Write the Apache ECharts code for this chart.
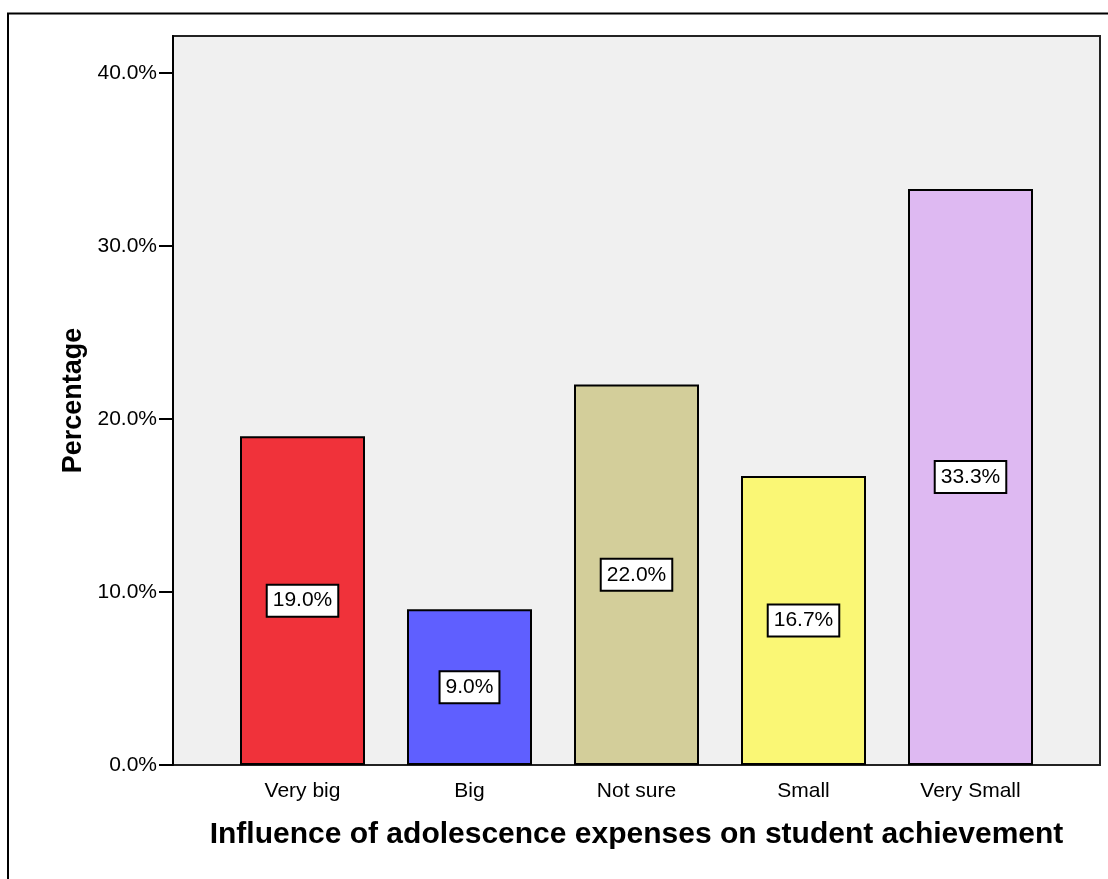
<!DOCTYPE html>
<html>
<head>
<meta charset="utf-8">
<script src="https://cdn.jsdelivr.net/npm/echarts@6/dist/echarts.min.js"></script>
<style>
    html, body { margin: 0; padding: 0; background: #fff; }
    #chart { width: 1108px; height: 879px; }
</style>
</head>
<body>
<div id="chart"></div>
<script>
// values
var categories = ['Very big', 'Big', 'Not sure', 'Small', 'Very Small'];
var percents = [19.0, 9.0, 22.0, 16.7, 33.3];
var barColors = ['#f0323a', '#5f5fff', '#d3ce9a', '#faf775', '#deb9f2'];
var yTicks = [0, 10, 20, 30, 40];
var yMax = 42.14;

var chartDom = document.getElementById('chart');
var myChart = echarts.init(chartDom);

var barData = [];
percents.forEach(function (v, i) {
    barData.push({
        value: v,
        itemStyle: { color: barColors[i] }
    });
});

var font = 'Liberation Sans, Arial, sans-serif';

var option = {
    animation: false,
    textStyle: { fontFamily: font },
    graphic: [
        {
            type: 'polyline',
            shape: { points: [[8, 879], [8, 13.5], [1108, 13.5]] },
            style: { stroke: '#000', lineWidth: 2, fill: null }
        }
    ],
    grid: [
        {
            left: 173, right: 8, top: 36, bottom: 114,
            show: true,
            backgroundColor: '#f0f0f0',
            borderColor: '#222',
            borderWidth: 2
        },
        {
            left: 219, right: 54, top: 36, bottom: 114
        }
    ],
    xAxis: [
        { gridIndex: 0, type: 'value', show: false },
        {
            gridIndex: 1,
            type: 'category',
            data: categories,
            axisLine: { show: false },
            axisTick: {
                alignWithLabel: true,
                length: 12,
                lineStyle: { color: '#000', width: 2 }
            },
            axisLabel: { color: '#000', fontSize: 21, margin: 16, fontFamily: font },
            name: 'Influence of adolescence expenses on student achievement',
            nameLocation: 'middle',
            nameGap: 55,
            nameTextStyle: { color: '#000', fontSize: 30, fontWeight: 'bold', fontFamily: font }
        }
    ],
    yAxis: [
        {
            gridIndex: 0,
            type: 'value',
            min: 0,
            max: yMax,
            interval: 10,
            splitLine: { show: false },
            axisLine: { show: true, lineStyle: { color: '#000', width: 2 } },
            axisTick: {
                show: true,
                length: 14,
                customValues: yTicks,
                lineStyle: { color: '#000', width: 2 }
            },
            axisLabel: {
                color: '#000',
                fontSize: 21,
                margin: 16,
                fontFamily: font,
                customValues: yTicks,
                formatter: function (v) { return v.toFixed(1) + '%'; }
            },
            name: 'Percentage',
            nameLocation: 'middle',
            nameGap: 86,
            nameTextStyle: { color: '#000', fontSize: 27, fontWeight: 'bold', fontFamily: font }
        },
        { gridIndex: 1, type: 'value', min: 0, max: yMax, show: false }
    ],
    series: [
        {
            type: 'bar',
            xAxisIndex: 1,
            yAxisIndex: 1,
            data: barData,
            barWidth: 125,
            itemStyle: { borderColor: '#000', borderWidth: 2 },
            label: {
                show: true,
                position: 'inside',
                color: '#000',
                fontSize: 21,
                fontFamily: font,
                backgroundColor: '#fff',
                borderColor: '#000',
                borderWidth: 2,
                padding: [5, 5, 4, 5],
                formatter: function (p) { return p.value.toFixed(1) + '%'; }
            }
        }
    ]
};
myChart.setOption(option);

window.addEventListener('resize', function () {
    myChart.resize();
});
</script>
</body>
</html>
